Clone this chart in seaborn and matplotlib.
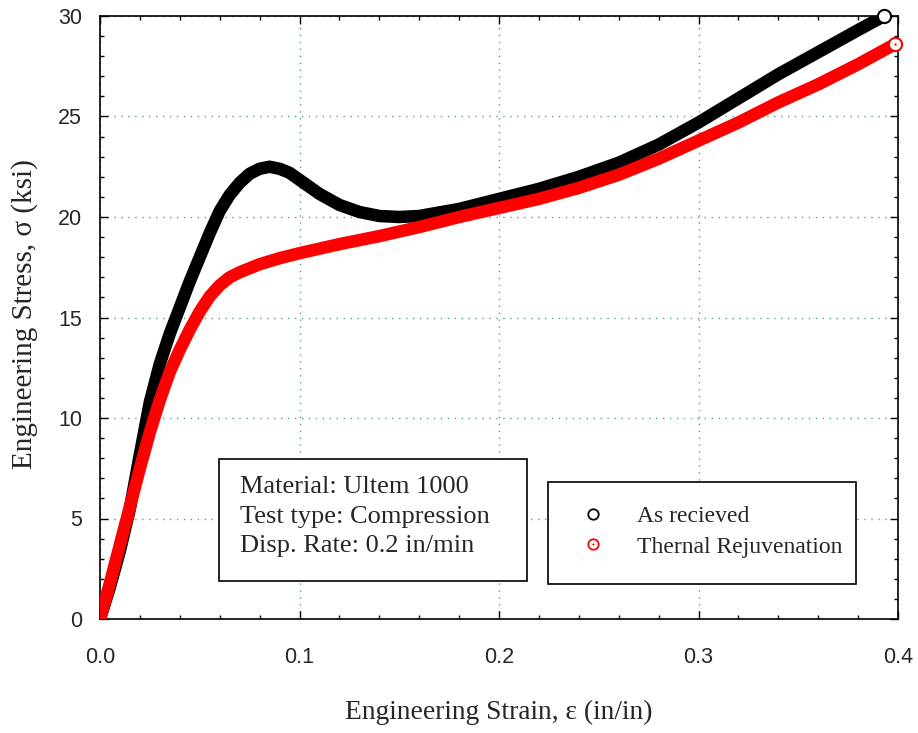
import numpy as np
import pandas as pd
import matplotlib
matplotlib.use("Agg")
import matplotlib.pyplot as plt
import seaborn as sns
from matplotlib.lines import Line2D
from matplotlib.patches import Rectangle
from matplotlib.legend_handler import HandlerTuple
from matplotlib.ticker import MultipleLocator

# ---- data ----
strain_as_received = [0.000, 0.005, 0.010, 0.015, 0.020, 0.025, 0.030, 0.035, 0.040,
                      0.045, 0.050, 0.055, 0.060, 0.065, 0.070, 0.075, 0.080, 0.085,
                      0.090, 0.095, 0.100, 0.105, 0.110, 0.120, 0.130, 0.140, 0.150,
                      0.160, 0.180, 0.200, 0.220, 0.240, 0.260, 0.280, 0.300, 0.320,
                      0.340, 0.360, 0.380, 0.393]
stress_as_received = [0.0, 1.6, 3.4, 5.5, 8.2, 10.8, 12.7, 14.2, 15.5,
                      16.8, 18.0, 19.2, 20.3, 21.1, 21.7, 22.15, 22.4, 22.5,
                      22.4, 22.2, 21.85, 21.5, 21.15, 20.6, 20.25, 20.05, 20.0,
                      20.05, 20.4, 20.9, 21.4, 22.0, 22.7, 23.6, 24.7, 25.9,
                      27.1, 28.2, 29.3, 30.0]

strain_rejuv = [0.000, 0.005, 0.010, 0.015, 0.020, 0.025, 0.030, 0.035, 0.040,
                0.045, 0.050, 0.055, 0.060, 0.065, 0.070, 0.080, 0.090, 0.100,
                0.120, 0.140, 0.160, 0.180, 0.200, 0.220, 0.240, 0.260, 0.280,
                0.300, 0.320, 0.340, 0.360, 0.380, 0.3985]
stress_rejuv = [0.0, 1.8, 3.7, 5.6, 7.5, 9.3, 10.9, 12.3, 13.4,
                14.4, 15.3, 16.05, 16.6, 17.0, 17.25, 17.65, 17.95, 18.2,
                18.65, 19.05, 19.5, 20.0, 20.45, 20.9, 21.45, 22.1, 22.9,
                23.8, 24.7, 25.7, 26.6, 27.6, 28.6]

series_labels = ["As recieved", "Thernal Rejuvenation"]
info_lines = ["Material: Ultem 1000", "Test type: Compression", "Disp. Rate: 0.2 in/min"]
x_ticks = [0.0, 0.1, 0.2, 0.3, 0.4]
x_tick_labels = ["0.0", "0.1", "0.2", "0.3", "0.4"]
y_ticks = [0, 5, 10, 15, 20, 25, 30]

sns.set_style("ticks")
plt.rcParams['font.family'] = ['Liberation Serif', 'DejaVu Serif']

fig = plt.figure(figsize=(9.18, 7.33), dpi=100)
ax = fig.add_axes([100/918, 1-619/733, 798/918, 603/733])

df_a = pd.DataFrame({"strain": strain_as_received, "stress": stress_as_received})
df_r = pd.DataFrame({"strain": strain_rejuv, "stress": stress_rejuv})

band = 9.0
sns.lineplot(data=df_a, x="strain", y="stress", ax=ax, color="black", lw=band,
             sort=False, solid_capstyle="round", solid_joinstyle="round", zorder=3)
sns.lineplot(data=df_r, x="strain", y="stress", ax=ax, color="red", lw=band,
             sort=False, solid_capstyle="round", solid_joinstyle="round", zorder=4)
# open end markers
ax.plot(df_a["strain"].iloc[-1:], df_a["stress"].iloc[-1:], 'o', ms=9.5, mfc='white',
        mec='black', mew=1.5, zorder=5, clip_on=False)
ax.plot(df_r["strain"].iloc[-1:], df_r["stress"].iloc[-1:], 'o', ms=9.5, mfc='white',
        mec='red', mew=1.5, zorder=6, clip_on=False)
ax.plot(df_r["strain"].iloc[-1:], df_r["stress"].iloc[-1:], 'o', ms=1.6, mfc='red',
        mec='red', mew=0, zorder=7, clip_on=False)

ax.set_xlim(0, 0.4)
ax.set_ylim(0, 30)
ax.set_xticks(x_ticks)
ax.set_xticklabels(x_tick_labels)
ax.set_yticks(y_ticks)
ax.xaxis.set_minor_locator(MultipleLocator(0.02))
ax.yaxis.set_minor_locator(MultipleLocator(1))

for s in ax.spines.values():
    s.set_linewidth(1.2)
    s.set_color("black")
    s.set_visible(True)

ax.tick_params(which='both', direction='in', top=True, right=True, width=1.0, color='black')
ax.tick_params(which='major', length=5.5)
ax.tick_params(which='minor', length=3)
ax.tick_params(axis='x', which='major', pad=20)
ax.tick_params(axis='y', which='major', pad=13)
for lab in ax.get_xticklabels() + ax.get_yticklabels():
    lab.set_family(['Liberation Sans', 'DejaVu Sans'])
    lab.set_fontsize(15.5)

ax.grid(True, which='major', color='#5f98a4', linestyle=(0, (1, 4)), lw=1.0)
ax.set_axisbelow(True)

ax.set_xlabel("Engineering Strain, ε (in/in)", fontsize=19.8, va='center')
ax.set_ylabel("Engineering Stress, σ (ksi)", fontsize=21, va='center')
ax.xaxis.set_label_coords(0.5, (619-712)/603)
ax.yaxis.set_label_coords(-(100-25)/798, 0.505)

# info box
ax.add_patch(Rectangle(((219-100)/798, (619-581)/603), (527-219)/798, (581-459)/603,
                       transform=ax.transAxes, fill=True, fc='white', ec='black',
                       lw=1.2, zorder=8))
for i, line in enumerate(info_lines):
    ax.text((240-100)/798, (619-(487+29.5*i))/603, line, transform=ax.transAxes,
            ha='left', va='center', fontsize=19, zorder=9)

# legend box
ax.add_patch(Rectangle(((548-100)/798, (619-584)/603), (856-548)/798, (584-482)/603,
                       transform=ax.transAxes, fill=True, fc='white', ec='black',
                       lw=1.2, zorder=8))
h1 = Line2D([], [], marker='o', ls='', ms=7.5, mfc='white', mec='black', mew=1.3)
h2a = Line2D([], [], marker='o', ls='', ms=7.5, mfc='white', mec='red', mew=1.3)
h2b = Line2D([], [], marker='o', ls='', ms=1.5, mfc='red', mec='red', mew=0)
leg = ax.legend([h1, (h2a, h2b)], series_labels, handler_map={tuple: HandlerTuple(ndivide=1, pad=0)},
                loc='center left', bbox_to_anchor=((581-100)/798, (619-531.5)/603),
                frameon=False, fontsize=17, handlelength=1.0, handletextpad=1.36,
                borderpad=0, borderaxespad=0, labelspacing=0.4)
leg.set_zorder(10)

fig.savefig("out.png", dpi=100)
